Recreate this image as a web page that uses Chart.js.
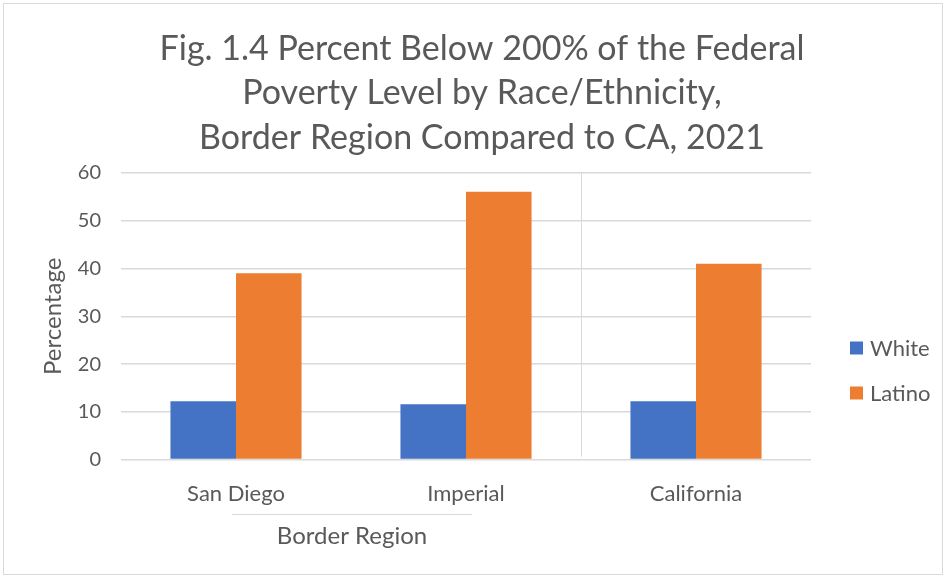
<!DOCTYPE html>
<html>
<head>
<meta charset="utf-8">
<script src="https://cdn.jsdelivr.net/npm/chart.js@4"></script>
<style>
  body { margin: 0; background: #fff; }
  #wrap { position: absolute; left: 3px; top: 3px; width: 938px; height: 570px; border: 1px solid #d9d9d9; }
</style>
</head>
<body>
<div id="wrap"><canvas id="chart" width="938" height="570"></canvas></div>
<script>
const categories = ['San Diego', 'Imperial', 'California'];
const white = [12.2, 11.6, 12.2];
const latino = [39.0, 56.1, 41.0];
const titleLines = ['Fig. 1.4 Percent Below 200% of the Federal', 'Poverty Level by Race/Ethnicity,', 'Border Region Compared to CA, 2021'];
const groupLabel = 'Border Region';
const groupSpan = [0, 1];

const FONT = 'Lato, "Open Sans", sans-serif';
const TEXT = '#595959';

// title (centred on the whole frame), separator between Imperial and California,
// the "Border Region" group label, and the legend
const extrasPlugin = {
  id: 'extras',
  afterDraw(chart) {
    const ctx = chart.ctx;
    const x = chart.scales.x;
    const area = chart.chartArea;
    ctx.save();

    ctx.fillStyle = TEXT;
    ctx.font = '34px ' + FONT;
    ctx.textAlign = 'center';
    ctx.textBaseline = 'middle';
    titleLines.forEach((line, i) => ctx.fillText(line, 478, 45 + i * 44.5));

    const half = (x.getPixelForValue(1) - x.getPixelForValue(0)) / 2;
    const sepX = Math.round(x.getPixelForValue(groupSpan[1]) + half) + 0.5;
    ctx.strokeStyle = '#d9d9d9';
    ctx.lineWidth = 1;
    ctx.beginPath();
    ctx.moveTo(sepX, area.top);
    ctx.lineTo(sepX, area.bottom - 3);
    ctx.stroke();

    const x0 = x.getPixelForValue(groupSpan[0]) - 4;
    const x1 = x.getPixelForValue(groupSpan[1]) + 6;
    const y = Math.round(area.bottom + 54) + 0.5;
    ctx.beginPath();
    ctx.moveTo(x0, y);
    ctx.lineTo(x1, y);
    ctx.stroke();
    ctx.font = '24px ' + FONT;
    ctx.fillText(groupLabel, (x0 + x1) / 2, y + 22);

    // legend
    ctx.font = '22px ' + FONT;
    ctx.textAlign = 'left';
    chart.data.datasets.forEach((ds, i) => {
      const ly = 344 + i * 45;
      ctx.fillStyle = ds.backgroundColor;
      ctx.fillRect(area.right + 39, ly - 6.5, 13, 13);
      ctx.fillStyle = TEXT;
      ctx.fillText(ds.label, area.right + 59, ly + 1);
    });
    ctx.restore();
  }
};

new Chart(document.getElementById('chart'), {
  type: 'bar',
  data: {
    labels: categories,
    datasets: [
      { label: 'White', data: white, backgroundColor: '#4472c4' },
      { label: 'Latino', data: latino, backgroundColor: '#ed7d31' }
    ]
  },
  options: {
    responsive: false,
    animation: false,
    layout: { padding: { left: 0, right: 131, bottom: 54, top: 169 } },
    datasets: { bar: { categoryPercentage: 0.57, barPercentage: 1.0 } },
    scales: {
      x: {
        grid: { display: false },
        border: { display: false },
        ticks: { color: TEXT, font: { family: FONT, size: 22 }, padding: 13 }
      },
      y: {
        min: 0,
        max: 60,
        afterFit(scale) { scale.width = 117; },
        ticks: { stepSize: 10, color: TEXT, font: { family: FONT, size: 20 }, padding: 20 },
        grid: { color: '#d9d9d9', lineWidth: 1.5, drawTicks: false },
        border: { display: false },
        title: { display: true, text: 'Percentage', color: TEXT, font: { family: FONT, size: 24 }, padding: { top: 35, bottom: 0 } }
      }
    },
    plugins: {
      title: { display: false },
      legend: { display: false },
      tooltip: { enabled: false }
    }
  },
  plugins: [extrasPlugin]
});
</script>
</body>
</html>
